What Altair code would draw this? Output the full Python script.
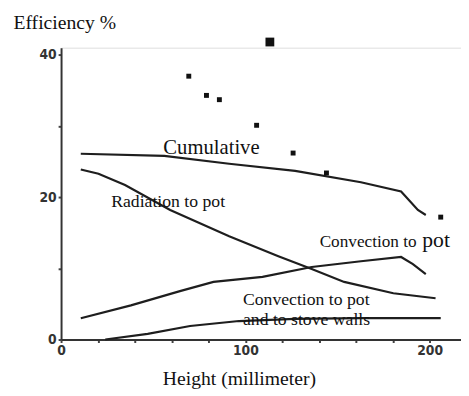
import altair as alt
import pandas as pd

# ---- data ----
cum_x = [10.7, 56, 91.2, 127, 162.7, 184.5, 193.6, 197.9]
cum_y = [26.1, 25.8, 24.7, 23.7, 22.1, 20.8, 18.2, 17.5]
rad_x = [10.7, 20.3, 34.7, 59.2, 91.2, 117.9, 136, 153.6, 180.3, 203.2]
rad_y = [23.9, 23.3, 21.7, 18.2, 14.5, 11.7, 9.9, 8.1, 6.5, 5.8]
conv_x = [10.7, 37.9, 64.5, 82.7, 109.3, 136, 162.7, 184.5, 190.9, 197.9]
conv_y = [3.0, 4.8, 6.8, 8.1, 8.8, 10.2, 11.0, 11.6, 10.6, 9.2]
wall_x = [24, 47, 70, 96.5, 127, 162.7, 206]
wall_y = [0.0, 0.8, 1.9, 2.6, 2.9, 3.0, 3.0]
dot_x = [69.3, 78.9, 85.9, 106.1, 125.9, 144, 206]
dot_y = [37.0, 34.3, 33.7, 30.1, 26.2, 23.4, 17.2]
blot_x = [113.3]
blot_y = [41.8]

label_text = ["Cumulative", "Radiation to pot", "Convection to ", "pot",
              "Convection to pot", "and to stove walls"]
label_x = [55.5, 27.2, 140.3, 196.0, 98.7, 98.7]
label_y = [26.1, 18.6, 13.0, 13.0, 4.9, 2.1]
label_size = [21, 18, 17.5, 22, 18, 18]

rows = []
for name, xs, ys in [("Cumulative", cum_x, cum_y), ("Radiation", rad_x, rad_y),
                     ("Convection", conv_x, conv_y), ("Walls", wall_x, wall_y)]:
    for i, (a, b) in enumerate(zip(xs, ys)):
        rows.append({"series": name, "x": a, "y": b, "order": i})
lines_df = pd.DataFrame(rows)
dots_df = pd.DataFrame({"x": dot_x, "y": dot_y})
blot_df = pd.DataFrame({"x": blot_x, "y": blot_y})
labels_df = pd.DataFrame({"text": label_text, "x": label_x, "y": label_y, "size": label_size})

xscale = alt.Scale(domain=[0, 217], nice=False, zero=False)
yscale = alt.Scale(domain=[0, 41], nice=False)

xaxis = alt.Axis(
    values=list(range(0, 220, 20)), labelExpr="datum.value % 100 == 0 ? datum.label : ''",
    title="Height (millimeter)", titleFont="Liberation Serif", titleFontSize=20,
    titleFontWeight="normal", titleColor="#111", titleX=181, titleY=46,
    titleAlign="center", titleBaseline="alphabetic",
    labelFont="DejaVu Sans Condensed", labelFontWeight="bold", labelFontSize=14,
    labelColor="#333", labelPadding=1, tickSize=3, tickColor="#444", tickWidth=2,
    domainColor="#333", domainWidth=2, grid=False, labelFlush=False,
)
yaxis = alt.Axis(
    values=list(range(0, 45, 5)), labelExpr="datum.value % 20 == 0 ? datum.label : ''",
    title="Efficiency %", titleFont="Liberation Serif", titleFontSize=20,
    titleFontWeight="normal", titleColor="#111", titleAngle=0, titleX=-49, titleY=-20,
    titleAlign="left", titleBaseline="alphabetic",
    labelFont="DejaVu Sans Condensed", labelFontWeight="bold", labelFontSize=14,
    labelColor="#333", labelPadding=2, tickSize=3, tickColor="#444", tickWidth=2,
    domainColor="#333", domainWidth=2, grid=False,
)

lines = alt.Chart(lines_df).mark_line(color="#1e1e1e", strokeWidth=2.2).encode(
    x=alt.X("x:Q", scale=xscale, axis=xaxis),
    y=alt.Y("y:Q", scale=yscale, axis=yaxis),
    detail="series:N", order="order:Q",
)
dots = alt.Chart(dots_df).mark_square(color="#111", size=25, opacity=1).encode(
    x=alt.X("x:Q", scale=xscale), y=alt.Y("y:Q", scale=yscale))
blot = alt.Chart(blot_df).mark_square(color="#111", size=80, opacity=1).encode(
    x=alt.X("x:Q", scale=xscale), y=alt.Y("y:Q", scale=yscale))
labels = alt.Chart(labels_df).mark_text(
    font="Liberation Serif", align="left", baseline="alphabetic", color="#111"
).encode(
    x=alt.X("x:Q", scale=xscale), y=alt.Y("y:Q", scale=yscale),
    text="text:N", size=alt.Size("size:Q", scale=None, legend=None),
)

chart = alt.layer(lines, dots, blot, labels).properties(
    width=407, height=297,
    autosize=alt.AutoSizeParams(type="none"),
    padding={"left": 54, "top": 37, "right": 0, "bottom": 52},
).configure_view(stroke=None).configure(background="white")

chart.save("out.html", embed_options={"renderer": "svg", "actions": False})
